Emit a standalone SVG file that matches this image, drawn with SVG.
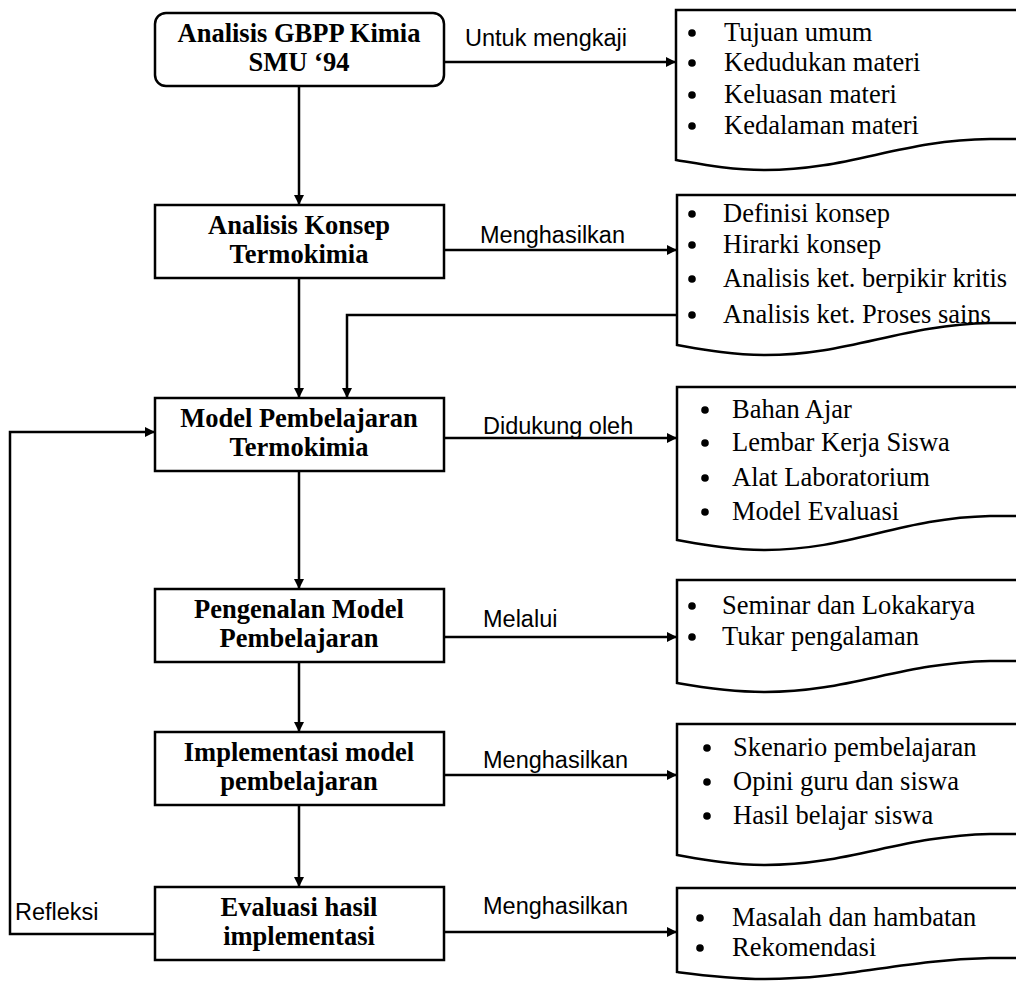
<svg xmlns="http://www.w3.org/2000/svg" width="1016" height="981" viewBox="0 0 1016 981">
<style>
.box{fill:#fff;stroke:#000;stroke-width:2.5}
.doc{fill:#fff;stroke:#000;stroke-width:2.5}
.bt{font-family:"Liberation Serif","Times New Roman",serif;font-weight:bold;font-size:26.5px;text-anchor:middle;fill:#000}
.it{font-family:"Liberation Serif","Times New Roman",serif;font-size:26.5px;fill:#000}
.lb{font-family:"Liberation Sans",Arial,sans-serif;font-size:23.5px;fill:#000}
.ln{fill:none;stroke:#000;stroke-width:2.5}
</style>
<defs>
<marker id="ah" viewBox="0 0 10 10" refX="10" refY="5" markerWidth="5" markerHeight="4" orient="auto" markerUnits="strokeWidth">
<path d="M0,0 L10,5 L0,10 z" fill="#000"/>
</marker>
</defs>
<rect width="1016" height="981" fill="#fff"/>
<g id="connectors">
<path class="ln" d="M299,86 V205" marker-end="url(#ah)"/>
<path class="ln" d="M299,278 V398" marker-end="url(#ah)"/>
<path class="ln" d="M677,315 H347 V398" marker-end="url(#ah)"/>
<path class="ln" d="M299,471 V589" marker-end="url(#ah)"/>
<path class="ln" d="M299,662 V732" marker-end="url(#ah)"/>
<path class="ln" d="M299,805 V887" marker-end="url(#ah)"/>
<path class="ln" d="M155,934 H10 V432 H155" marker-end="url(#ah)"/>
<path class="ln" d="M444,62 H676" marker-end="url(#ah)"/>
<path class="ln" d="M444,250 H677" marker-end="url(#ah)"/>
<path class="ln" d="M444,438 H677" marker-end="url(#ah)"/>
<path class="ln" d="M444,637 H677" marker-end="url(#ah)"/>
<path class="ln" d="M444,775 H677" marker-end="url(#ah)"/>
<path class="ln" d="M444,932 H677" marker-end="url(#ah)"/>
<text class="lb" x="465" y="46">Untuk mengkaji</text>
<text class="lb" x="480" y="243">Menghasilkan</text>
<text class="lb" x="483" y="434">Didukung oleh</text>
<text class="lb" x="483" y="627">Melalui</text>
<text class="lb" x="483" y="768">Menghasilkan</text>
<text class="lb" x="483" y="914">Menghasilkan</text>
<text class="lb" x="15" y="920">Refleksi</text>
</g>
<g id="n1">
<rect class="box" x="155" y="13" width="289" height="73" rx="11"/>
<text class="bt" x="299" y="42">Analisis GBPP Kimia</text>
<text class="bt" x="299" y="71">SMU ‘94</text>
</g>
<g id="n2">
<rect class="box" x="155" y="205" width="289" height="73"/>
<text class="bt" x="299" y="234">Analisis Konsep</text>
<text class="bt" x="299" y="263">Termokimia</text>
</g>
<g id="n3">
<rect class="box" x="155" y="398" width="289" height="73"/>
<text class="bt" x="299" y="427">Model Pembelajaran</text>
<text class="bt" x="299" y="456">Termokimia</text>
</g>
<g id="n4">
<rect class="box" x="155" y="589" width="289" height="73"/>
<text class="bt" x="299" y="618">Pengenalan Model</text>
<text class="bt" x="299" y="647">Pembelajaran</text>
</g>
<g id="n5">
<rect class="box" x="155" y="732" width="289" height="73"/>
<text class="bt" x="299" y="761">Implementasi model</text>
<text class="bt" x="299" y="790">pembelajaran</text>
</g>
<g id="n6">
<rect class="box" x="155" y="887" width="289" height="73"/>
<text class="bt" x="299" y="916">Evaluasi hasil</text>
<text class="bt" x="299" y="945">implementasi</text>
</g>
<g id="d1">
<path class="doc" d="M1020,10 H676 V160 C700,164 730,170 765,170 C850,170 900,140 990,139 H1020"/>
<g class="it">
<circle cx="692" cy="33" r="3.8"/><text x="724" y="41">Tujuan umum</text>
<circle cx="692" cy="63" r="3.8"/><text x="724" y="71">Kedudukan materi</text>
<circle cx="692" cy="95" r="3.8"/><text x="724" y="103">Keluasan materi</text>
<circle cx="692" cy="126" r="3.8"/><text x="724" y="134">Kedalaman materi</text>
</g>
</g>
<g id="d2">
<path class="doc" d="M1020,195 H677 V345 C700,349 730,355 765,355 C850,355 900,325 990,323 H1020"/>
<g class="it">
<circle cx="692" cy="214" r="3.8"/><text x="723" y="222">Definisi konsep</text>
<circle cx="692" cy="245" r="3.8"/><text x="723" y="253">Hirarki konsep</text>
<circle cx="692" cy="279" r="3.8"/><text x="723" y="287">Analisis ket. berpikir kritis</text>
<circle cx="692" cy="315" r="3.8"/><text x="723" y="323">Analisis ket. Proses sains</text>
</g>
</g>
<g id="d3">
<path class="doc" d="M1020,387 H677 V540 C700,544 730,550 765,550 C850,550 900,518 990,516 H1020"/>
<g class="it">
<circle cx="705" cy="410" r="3.8"/><text x="732" y="418">Bahan Ajar</text>
<circle cx="705" cy="443" r="3.8"/><text x="732" y="451">Lembar Kerja Siswa</text>
<circle cx="705" cy="478" r="3.8"/><text x="732" y="486">Alat Laboratorium</text>
<circle cx="705" cy="512" r="3.8"/><text x="732" y="520">Model Evaluasi</text>
</g>
</g>
<g id="d4">
<path class="doc" d="M1020,580 H677 V683 C700,687 730,692 765,692 C850,692 900,663 990,661 H1020"/>
<g class="it">
<circle cx="692" cy="606" r="3.8"/><text x="722" y="614">Seminar dan Lokakarya</text>
<circle cx="692" cy="637" r="3.8"/><text x="722" y="645">Tukar pengalaman</text>
</g>
</g>
<g id="d5">
<path class="doc" d="M1020,724 H677 V855 C700,859 730,865 765,865 C850,865 900,836 990,834 H1020"/>
<g class="it">
<circle cx="707" cy="748" r="3.8"/><text x="733" y="756">Skenario pembelajaran</text>
<circle cx="707" cy="782" r="3.8"/><text x="733" y="790">Opini guru dan siswa</text>
<circle cx="707" cy="816" r="3.8"/><text x="733" y="824">Hasil belajar siswa</text>
</g>
</g>
<g id="d6">
<path class="doc" d="M1020,888 H677 V972 C700,975 730,979 765,979 C850,979 900,960 990,958 H1020"/>
<g class="it">
<circle cx="700" cy="918" r="3.8"/><text x="732" y="926">Masalah dan hambatan</text>
<circle cx="700" cy="948" r="3.8"/><text x="732" y="956">Rekomendasi</text>
</g>
</g>
</svg>
